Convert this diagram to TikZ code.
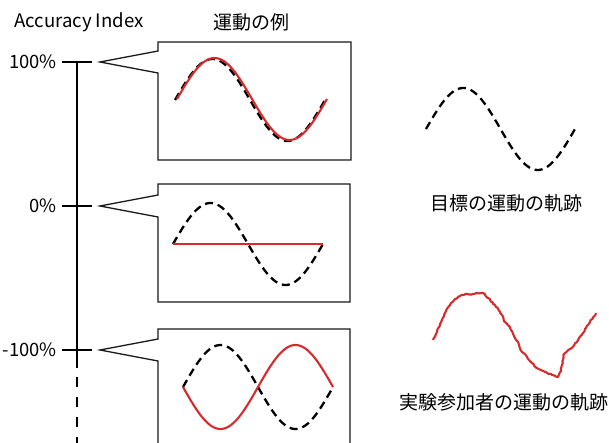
\documentclass[tikz,border=0pt]{standalone}
\usepackage{fontspec}
\setmainfont{Noto Sans CJK JP}
\usetikzlibrary{positioning, calc, decorations.pathmorphing}
\definecolor{colTrace}{RGB}{214,42,44}
\definecolor{colFrame}{RGB}{25,25,25}
\tikzset{
  axisLine/.style={line width=2.8pt, draw=black},
  tickLine/.style={line width=2.8pt, draw=black},
  callout/.style={draw=colFrame, line width=1.3pt, line join=miter},
  target/.style={line width=2.3pt, draw=black, dash pattern=on 8pt off 5pt},
  trial/.style={line width=2.1pt, draw=colTrace},
  pctLabel/.style={font=\fontsize{18.4}{22}\selectfont, anchor=base east, inner sep=0pt},
  capLabel/.style={font=\fontsize{19}{23}\selectfont, inner sep=0pt}
}

\begin{document}
\begin{tikzpicture}[x=1pt, y=-1pt]
  \useasboundingbox (0,0) rectangle (609,443);
  \pgfmathsetseed{7}

  % axis
  \node[font=\fontsize{18.6}{22}\selectfont, anchor=base west, inner sep=0pt] (axTitle) at (14,28) {Accuracy Index};
  \coordinate (tHi) at (77,62);
  \coordinate (tMid) at (77,206);
  \coordinate (tLo) at (77,350);
  \coordinate (axSolid) at (77,368);
  \coordinate (axDash) at (77,377);
  \coordinate (axEnd) at (77,450);

  \draw[axisLine] (tHi) -- (axSolid);
  \draw[axisLine, dash pattern=on 10pt off 10pt] (axDash) -- (axEnd);

  \node[pctLabel] (lblHi) at (57,68.5) {100\%};
  \node[pctLabel] (lblMid) at (57,212.5) {0\%};
  \node[pctLabel] (lblLo) at (57,356.5) {-100\%};

  \foreach \t in {tHi, tMid, tLo}
    \draw[tickLine] ([xshift=-15pt]\t) -- ([xshift=15pt]\t);

  % callout boxes
  \draw[callout] (158,51) -- ([xshift=23pt]tHi) -- (158,73) -- (158,160) -- (351,160) -- (351,42) -- (158,42) -- cycle;
  \draw[callout] (158,195) -- ([xshift=23pt]tMid) -- (158,217) -- (158,302) -- (350,302) -- (350,184) -- (158,184) -- cycle;
  \draw[callout] (158,460) -- (158,361) -- ([xshift=23pt]tLo) -- (158,339) -- (158,329) -- (350,329) -- (350,460);

  \node[capLabel] (boxTitle) at (251,22) {運動の例};

  % box 1: index 100%
  \draw[target] plot[domain=0:360, samples=73] ({175+\x/360*150}, {100-41*sin(\x)});
  \draw[trial] plot[domain=0:360, samples=73] ({177+\x/360*150}, {99-41*sin(\x)});

  % box 2: index 0%
  \draw[target] plot[domain=0:360, samples=73] ({173+\x/360*150}, {244-41*sin(\x)});
  \draw[trial] (173,244) -- (323,244);

  % box 3: index -100%
  \draw[target] plot[domain=0:360, samples=73] ({183+\x/360*150}, {387-42*sin(\x)});
  \draw[trial] plot[domain=0:360, samples=73] ({183+\x/360*150}, {387+42*sin(\x)});

  % legend curves
  \draw[target] plot[domain=0:360, samples=73] ({426+\x/360*149}, {129-41*sin(\x)});
  \node[capLabel] (tgtLabel) at (506,203) {目標の運動の軌跡};

  \draw[trial, line join=round, decorate, decoration={random steps, segment length=2pt, amplitude=0.6pt}]
    (433,340) -- (437,332) -- (442,320) -- (445,313) -- (450,305) -- (455,299)
      -- (460,296) -- (467,294) -- (473,294) -- (483,293) -- (488,298) -- (495,305) -- (500,312)
      -- (505,322) -- (510,327) -- (515,338) -- (518,342) -- (522,352) -- (527,357) -- (532,363)
      -- (537,368) -- (543,371) -- (552,375) -- (558,377) -- (561,371) -- (564,354) -- (570,349)
      -- (577,342) -- (583,333) -- (590,322) -- (596,313);
  \node[capLabel] (trialLabel) at (504,402) {実験参加者の運動の軌跡};
\end{tikzpicture}
\end{document}
